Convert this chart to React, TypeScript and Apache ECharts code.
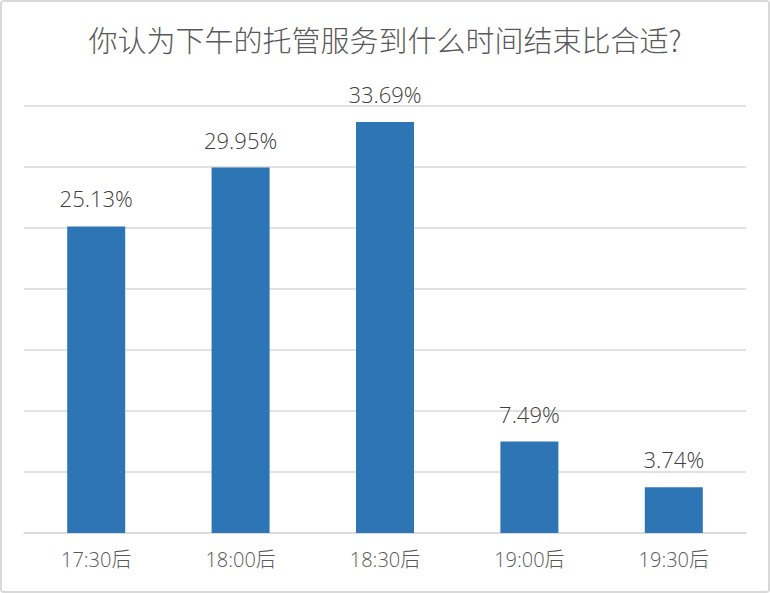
import React, { useEffect, useRef } from "react";
import * as echarts from "echarts";

const titleText = "你认为下午的托管服务到什么时间结束比合适?";
const categories = ["17:30后", "18:00后", "18:30后", "19:00后", "19:30后"];
const values = [25.13, 29.95, 33.69, 7.49, 3.74];

export default function App() {
  const ref = useRef<HTMLDivElement>(null);
  useEffect(() => {
    if (!ref.current) return;
    const chart = echarts.init(ref.current, undefined, { renderer: "svg" });
    chart.setOption({
      animation: false,
      backgroundColor: "#ffffff",
      title: {
        text: titleText,
        left: "center",
        top: 17,
        textStyle: {
          fontFamily: "Noto Sans CJK SC",
          fontSize: 29,
          fontWeight: 300,
          color: "#595959",
        },
      },
      grid: { left: 22, right: 22, top: 104, bottom: 58 },
      xAxis: {
        type: "category",
        data: categories,
        axisLine: { show: true, lineStyle: { color: "#d9d9d9", width: 1.5 } },
        axisTick: { show: false },
        axisLabel: {
          color: "#595959",
          fontSize: 20,
          fontWeight: 300,
          margin: 16,
          fontFamily: "Open Sans, Noto Sans CJK SC",
        },
      },
      yAxis: {
        type: "value",
        min: 0,
        max: 35,
        interval: 5,
        axisLabel: { show: false },
        axisLine: { show: false },
        axisTick: { show: false },
        splitLine: { lineStyle: { color: "#d9d9d9", width: 1.5 } },
      },
      series: [
        {
          type: "bar",
          data: values,
          barWidth: 58,
          itemStyle: { color: "#2E75B6" },
          label: {
            show: true,
            position: "top",
            distance: 17,
            formatter: (p: any) => p.value.toFixed(2) + "%",
            color: "#404040",
            fontSize: 22,
            fontWeight: 300,
            fontFamily: "Open Sans",
          },
        },
      ],
    });
    return () => chart.dispose();
  }, []);
  return (
    <div
      style={{
        position: "fixed",
        left: 0,
        top: 0,
        width: 770,
        height: 593,
        boxSizing: "border-box",
        border: "2px solid #d9d9d9",
        borderRadius: 4,
        background: "#fff",
        overflow: "hidden",
      }}
    >
      <div ref={ref} style={{ width: 766, height: 589 }} />
    </div>
  );
}
